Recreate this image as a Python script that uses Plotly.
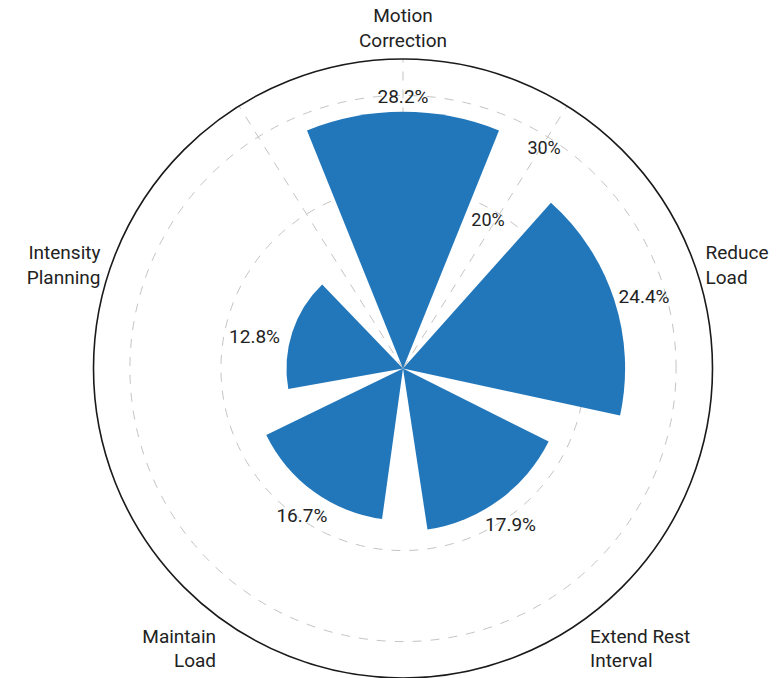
import plotly.graph_objects as go

# Share of responses per adjustment strategy (%)
categories = ["Motion Correction", "Reduce Load", "Extend Rest Interval",
              "Maintain Load", "Intensity Planning"]
values = [28.2, 24.4, 17.9, 16.7, 12.8]
category_labels = ["Motion<br>Correction", "Reduce<br>Load", "Extend Rest<br>Interval",
                   "Maintain<br>Load", "Intensity<br>Planning"]
radial_ticks = [20, 30]
radial_tick_labels = ["20%", "30%"]

R_MAX = 34
FONT = "Roboto"
TEXT = "#222222"
GRID = "#c4c4c4"
BLUE = "#2277bb"

fig = go.Figure()

# Background subplot: carries the dashed spokes and dashed rings
fig.add_trace(go.Scatterpolar(
    r=[0], theta=[0], mode="markers", marker=dict(opacity=0),
    hoverinfo="skip", showlegend=False, subplot="polar",
))

# Foreground subplot: bars, value labels and category labels
# (bar widths are fractions of one category slot)
fig.add_trace(go.Barpolar(
    r=values, theta=categories,
    width=[0.61, 0.84, 0.76, 0.78, 0.78],
    marker=dict(color=BLUE, line=dict(width=0)),
    hovertemplate="%{theta}: %{r}%<extra></extra>",
    showlegend=False, subplot="polar2",
))

# Value labels just beyond the end of each bar
label_gap = [0.4, 0.5, 2.2, 2.2, 1.4]
fig.add_trace(go.Scatterpolar(
    r=[v + g for v, g in zip(values, label_gap)], theta=categories,
    mode="text", text=[f"{v}%" for v in values],
    textposition=["top center", "middle right", "bottom center",
                  "bottom center", "bottom left"],
    textfont=dict(family=FONT, size=19, color=TEXT),
    hoverinfo="skip", showlegend=False, subplot="polar2",
))

fig.update_layout(
    width=781, height=678,
    margin=dict(l=30, r=5, t=59, b=0),
    paper_bgcolor="white",
    font=dict(family=FONT, color=TEXT),
    polar=dict(
        domain=dict(x=[0, 1], y=[0, 1]),
        bgcolor="white",
        radialaxis=dict(
            range=[0, R_MAX], tickmode="array", tickvals=radial_ticks,
            showticklabels=False, showline=False, ticks="",
            showgrid=True, gridcolor=GRID, griddash="dash", gridwidth=1,
        ),
        angularaxis=dict(
            rotation=0, direction="counterclockwise",
            tickmode="array", tickvals=[90, 58, -20.5, -90, -159.5, 122],
            showticklabels=False, ticks="", showline=False,
            showgrid=True, gridcolor=GRID, griddash="dash", gridwidth=1,
        ),
    ),
    polar2=dict(
        domain=dict(x=[0, 1], y=[0, 1]),
        bgcolor="rgba(0,0,0,0)",
        radialaxis=dict(
            range=[0, R_MAX], tickmode="array",
            tickvals=radial_ticks, ticktext=radial_tick_labels,
            angle=52, tickangle=52, side="counterclockwise",
            showline=False, ticks="", showgrid=False,
            layer="above traces",
            tickfont=dict(family=FONT, size=18, color=TEXT),
        ),
        angularaxis=dict(
            rotation=90, direction="clockwise",
            tickmode="array", tickvals=categories, ticktext=category_labels,
            ticks="outside", ticklen=4, tickcolor="rgba(0,0,0,0)",
            showgrid=False,
            showline=True, linecolor="#1a1a1a", linewidth=1.6,
            tickfont=dict(family=FONT, size=19, color=TEXT),
        ),
    ),
)

fig.write_html("out.html")
